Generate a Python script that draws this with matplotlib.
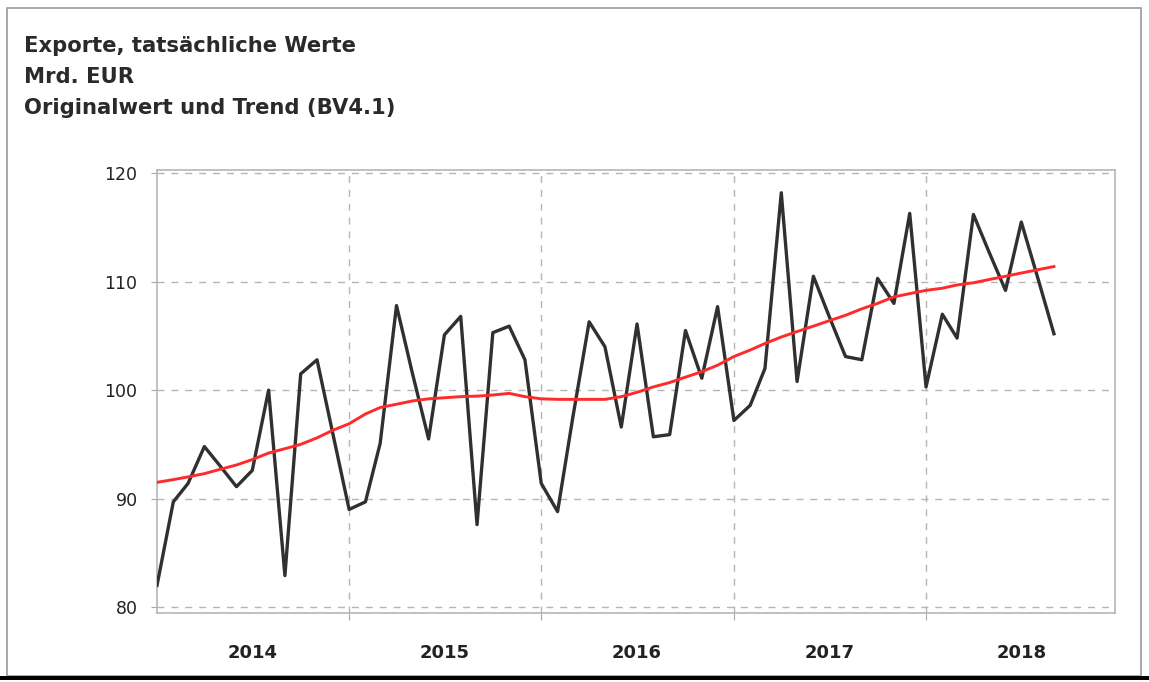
import matplotlib
matplotlib.use("Agg")
import matplotlib.pyplot as plt
from matplotlib.patches import Rectangle
import pandas as pd
import datetime as dt

# ---- data ----
start_month = "2014-01-01"
original = [82.0, 89.7, 91.4, 94.8, 93.0, 91.1, 92.6, 100.0, 82.9, 101.5, 102.8, 96.0,
            89.0, 89.7, 95.1, 107.8, 101.6, 95.5, 105.1, 106.8, 87.6, 105.3, 105.9, 102.8,
            91.4, 88.8, 97.5, 106.3, 104.0, 96.6, 106.1, 95.7, 95.9, 105.5, 101.1, 107.7,
            97.2, 98.6, 102.0, 118.2, 100.8, 110.5, 106.8, 103.1, 102.8, 110.3, 108.0, 116.3,
            100.3, 107.0, 104.8, 116.2, 112.7, 109.2, 115.5, 110.4, 105.2]
trend = [91.5, 91.75, 92.0, 92.3, 92.7, 93.1, 93.6, 94.2, 94.6, 95.0, 95.6, 96.3,
         96.9, 97.8, 98.4, 98.7, 99.0, 99.2, 99.3, 99.4, 99.45, 99.55, 99.7, 99.4,
         99.2, 99.15, 99.15, 99.15, 99.15, 99.4, 99.8, 100.3, 100.7, 101.2, 101.7, 102.3,
         103.1, 103.7, 104.3, 104.9, 105.4, 105.9, 106.4, 106.9, 107.5, 108.0, 108.6, 108.9,
         109.2, 109.4, 109.7, 109.9, 110.2, 110.5, 110.8, 111.1, 111.4]
years = [2014, 2015, 2016, 2017, 2018]
y_ticks = [80, 90, 100, 110, 120]
title_lines = ["Exporte, tatsächliche Werte", "Mrd. EUR", "Originalwert und Trend (BV4.1)"]

months = pd.date_range(start_month, periods=len(original), freq="MS")

fig = plt.figure(figsize=(11.49, 6.82), dpi=100)
fig.patch.set_facecolor("white")

# outer frame
fig.add_artist(Rectangle((7 / 1149, 1 - 676 / 682), (1141 - 7) / 1149, (676 - 8) / 682,
                         transform=fig.transFigure, fill=False, edgecolor="#9a9a9a", lw=1.2))
fig.add_artist(Rectangle((0, 1 - 680 / 682), 1, 4 / 682, transform=fig.transFigure,
                         facecolor="black", edgecolor="none"))

for i, line in enumerate(title_lines):
    fig.text(24 / 1149, 1 - (46 + 31 * i) / 682, line, fontsize=15.2, fontweight="bold",
             family="DejaVu Sans", color="#2a2a2a", va="center", ha="left")

ax = fig.add_axes([157 / 1149, 1 - 613 / 682, 958 / 1149, (613 - 170) / 682])
ax.plot(months, original, color="#303030", lw=2.4, zorder=3)
ax.plot(months, trend, color="#ff2a2a", lw=2.1, zorder=4)

ax.set_ylim(79.45, 120.3)
ax.set_xlim(dt.date(2014, 1, 1), dt.date(2018, 12, 26))
ax.set_yticks(y_ticks)
ax.set_yticklabels([str(v) for v in y_ticks], fontsize=12.5, family="DejaVu Sans", color="#222222")

ax.set_xticks([dt.date(y, 1, 1) for y in years[1:]])
ax.set_xticklabels([])
ax.set_xticks([dt.date(y, 7, 1) for y in years], minor=True)
ax.set_xticklabels([str(y) for y in years], minor=True, fontsize=13,
                   family="Liberation Sans Narrow", fontweight="bold", color="#222222")
ax.tick_params(axis="x", which="minor", length=0, pad=22)
ax.tick_params(axis="x", which="major", length=5, color="#aaaaaa")
ax.tick_params(axis="y", length=4, color="#aaaaaa", pad=10)

ax.grid(True, which="major", color="#b5b5b5", linestyle=(0, (5, 5)), lw=1.0)
for s in ax.spines.values():
    s.set_color("#b5b5b5")
    s.set_linewidth(1.2)

fig.savefig("out.png", dpi=100)
